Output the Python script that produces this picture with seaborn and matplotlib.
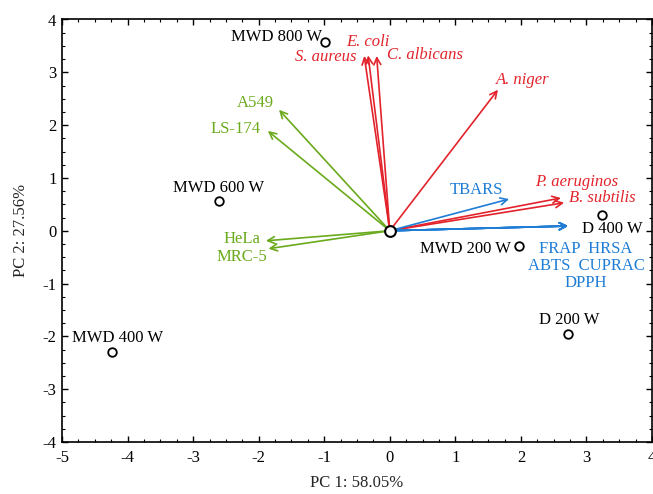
import matplotlib
matplotlib.use("Agg")
import matplotlib.pyplot as plt
import seaborn as sns
import pandas as pd
from matplotlib.ticker import MultipleLocator

# ---- data ----
samples = ["MWD 800 W", "MWD 600 W", "MWD 400 W", "MWD 200 W", "D 400 W", "D 200 W"]
sample_pc1 = [-0.99, -2.61, -4.24, 1.97, 3.24, 2.72]
sample_pc2 = [3.57, 0.57, -2.29, -0.28, 0.30, -1.95]

microbes = ["S. aureus", "E. coli", "C. albicans", "A. niger", "P. aeruginos", "B. subtilis"]
microbe_pc1 = [-0.39, -0.33, -0.20, 1.65, 2.61, 2.66]
microbe_pc2 = [3.31, 3.32, 3.31, 2.67, 0.62, 0.53]

cells = ["A549", "LS-174", "HeLa", "MRC-5"]
cell_pc1 = [-1.69, -1.86, -1.89, -1.85]
cell_pc2 = [2.29, 1.89, -0.19, -0.34]

antiox = ["TBARS", "FRAP", "HRSA", "ABTS", "CUPRAC", "DPPH"]
antiox_pc1 = [1.82, 2.72, 2.72, 2.72, 2.72, 2.72]
antiox_pc2 = [0.60, 0.09, 0.09, 0.09, 0.09, 0.09]

xlabel = "PC 1: 58.05%"
ylabel = "PC 2: 27.56%"

# ---- styling ----
sns.set_style("ticks")
plt.rcParams["font.family"] = ["Liberation Serif", "DejaVu Serif"]
plt.rcParams["axes.unicode_minus"] = False

RED = "#e3232b"
GREEN = "#6aaa1c"
BLUE = "#1f7dd6"
FS = 12

fig = plt.figure(figsize=(6.53, 4.94), dpi=100)
ax = fig.add_axes([62 / 653, 1 - 442 / 494, 590 / 653, (442 - 19.5) / 494])

ax.set_xlim(-5, 4)
ax.set_ylim(-4, 4)

# label offsets (pixels) and alignment
sample_off = {"MWD 800 W": (-3, 5, "right"), "MWD 600 W": (0, 13, "center"),
              "MWD 400 W": (6, 14, "center"), "MWD 200 W": (-8, -3, "right"),
              "D 400 W": (10, -14, "center"), "D 200 W": (1, 14, "center")}
var_off = {"S. aureus": (-8, -1, "right"), "E. coli": (0, 13, "center"),
           "C. albicans": (10, 1, "left"), "A. niger": (-2, 10, "left"),
           "P. aeruginos": (-26, 16, "left"), "B. subtilis": (5, 5, "left"),
           "A549": (-5, 7, "right"), "LS-174": (-7, 2, "right"),
           "HeLa": (-5, 2, "right"), "MRC-5": (-1, -8, "right"),
           "TBARS": (-6, 9, "right")}


def draw_arrows(names, xs, ys, color, italic=False):
    for n, x, y in zip(names, xs, ys):
        ax.annotate("", xy=(x, y), xytext=(0, 0),
                    arrowprops=dict(arrowstyle="->,head_length=0.5,head_width=0.25",
                                    color=color, lw=1.2, shrinkA=0, shrinkB=0),
                    zorder=3)
        if n in var_off:
            dx, dy, ha = var_off[n]
            ax.annotate(n, xy=(x, y), xytext=(dx, dy), textcoords="offset pixels",
                        ha=ha, va="center", color=color, fontsize=FS,
                        style="italic" if italic else "normal", zorder=5)


draw_arrows(cells, cell_pc1, cell_pc2, GREEN)
draw_arrows(microbes, microbe_pc1, microbe_pc2, RED, italic=True)
draw_arrows(antiox, antiox_pc1, antiox_pc2, BLUE)

# grouped antioxidant label
ax.annotate(f"{antiox[1]}  {antiox[2]}\n{antiox[3]}  {antiox[4]}\n{antiox[5]}",
            xy=(antiox_pc1[1], antiox_pc2[1]), xytext=(18, -40),
            textcoords="offset pixels", ha="center", va="center",
            multialignment="center", linespacing=1.05, color=BLUE, fontsize=FS)

# sample scores
df = pd.DataFrame({"PC1": sample_pc1, "PC2": sample_pc2, "sample": samples})
sns.scatterplot(data=df, x="PC1", y="PC2", ax=ax, marker="o", s=38,
                facecolor="white", edgecolor="black", linewidth=1.3, zorder=4,
                legend=False)
for n, x, y in zip(samples, sample_pc1, sample_pc2):
    dx, dy, ha = sample_off[n]
    ax.annotate(n, xy=(x, y), xytext=(dx, dy), textcoords="offset pixels",
                ha=ha, va="center", color="black", fontsize=FS, zorder=5)

# origin marker
sns.scatterplot(x=[0], y=[0], ax=ax, marker="o", s=60, facecolor="white",
                edgecolor="black", linewidth=1.5, zorder=6, legend=False)

ax.set_xlabel(xlabel, fontsize=FS, labelpad=6)
ax.set_ylabel(ylabel, fontsize=FS, labelpad=10)

ax.xaxis.set_major_locator(MultipleLocator(1))
ax.yaxis.set_major_locator(MultipleLocator(1))
ax.xaxis.set_minor_locator(MultipleLocator(0.25))
ax.yaxis.set_minor_locator(MultipleLocator(0.25))
ax.tick_params(which="both", direction="in", top=True, right=True, colors="black",
               labelsize=FS)
ax.tick_params(which="major", length=4, width=1)
ax.tick_params(which="minor", length=2.5, width=0.8)
ax.tick_params(axis="x", pad=6)
ax.tick_params(axis="y", pad=4)
for sp in ax.spines.values():
    sp.set_visible(True)
    sp.set_color("black")
    sp.set_linewidth(1.2)

fig.savefig("out.png", dpi=100)
